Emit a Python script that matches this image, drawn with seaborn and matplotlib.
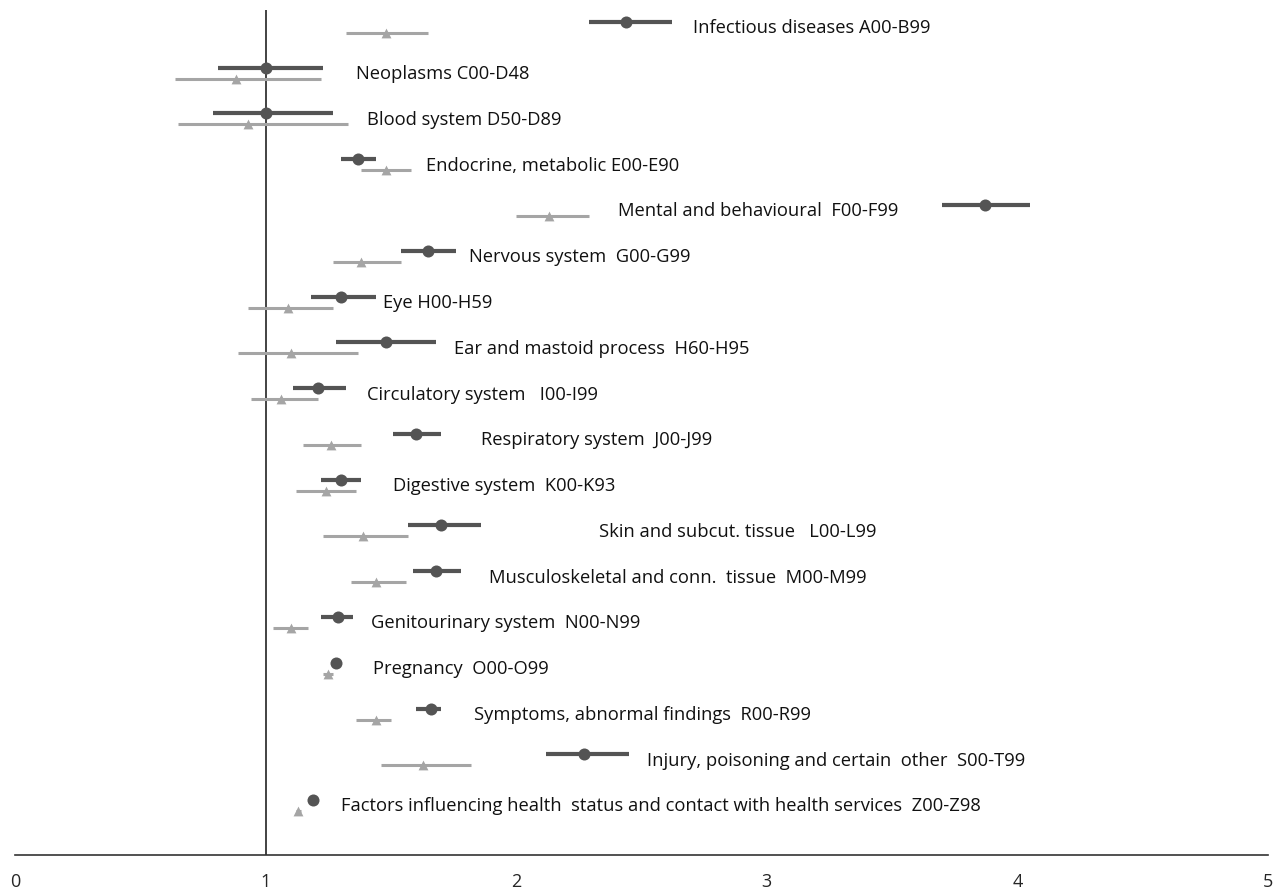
import matplotlib
matplotlib.use("Agg")
import matplotlib.pyplot as plt
import seaborn as sns
import pandas as pd
import numpy as np

categories = [
    "Infectious diseases A00-B99",
    "Neoplasms C00-D48",
    "Blood system D50-D89",
    "Endocrine, metabolic E00-E90",
    "Mental and behavioural  F00-F99",
    "Nervous system  G00-G99",
    "Eye H00-H59",
    "Ear and mastoid process  H60-H95",
    "Circulatory system   I00-I99",
    "Respiratory system  J00-J99",
    "Digestive system  K00-K93",
    "Skin and subcut. tissue   L00-L99",
    "Musculoskeletal and conn.  tissue  M00-M99",
    "Genitourinary system  N00-N99",
    "Pregnancy  O00-O99",
    "Symptoms, abnormal findings  R00-R99",
    "Injury, poisoning and certain  other  S00-T99",
    "Factors influencing health  status and contact with health services  Z00-Z98",
]

dark_est = [2.44, 1.00, 1.00, 1.37, 3.87, 1.65, 1.30, 1.48, 1.21, 1.60, 1.30, 1.70, 1.68, 1.29, 1.28, 1.66, 2.27, 1.19]
dark_lo = [2.29, 0.81, 0.79, 1.30, 3.70, 1.54, 1.18, 1.28, 1.11, 1.51, 1.22, 1.57, 1.59, 1.22, 1.27, 1.60, 2.12, 1.19]
dark_hi = [2.62, 1.23, 1.27, 1.44, 4.05, 1.76, 1.44, 1.68, 1.32, 1.70, 1.38, 1.86, 1.78, 1.35, 1.29, 1.70, 2.45, 1.19]

light_est = [1.48, 0.88, 0.93, 1.48, 2.13, 1.38, 1.09, 1.10, 1.06, 1.26, 1.24, 1.39, 1.44, 1.10, 1.25, 1.44, 1.63, 1.13]
light_lo = [1.32, 0.64, 0.65, 1.38, 2.00, 1.27, 0.93, 0.89, 0.94, 1.15, 1.12, 1.23, 1.34, 1.03, 1.23, 1.36, 1.46, 1.12]
light_hi = [1.65, 1.22, 1.33, 1.58, 2.29, 1.54, 1.27, 1.37, 1.21, 1.38, 1.36, 1.57, 1.56, 1.17, 1.27, 1.50, 1.82, 1.14]

label_x = [2.705, 1.36, 1.405, 1.64, 2.405, 1.81, 1.47, 1.75, 1.405, 1.86, 1.51, 2.33, 1.89, 1.42, 1.43, 1.83, 2.52, 1.30]

x_ticks = [0, 1, 2, 3, 4, 5]

sns.set_style("white")
plt.rcParams["font.family"] = ["Open Sans", "DejaVu Sans"]

DARK = "#545454"
LIGHT = "#a5a5a5"
OFF = 0.24

rows = np.arange(len(categories))
df_dark = pd.DataFrame({"row": rows, "est": dark_est, "lo": dark_lo, "hi": dark_hi})
df_light = pd.DataFrame({"row": rows + OFF, "est": light_est, "lo": light_lo, "hi": light_hi})

fig = plt.figure(figsize=(12.8, 8.92), dpi=100)
ax = fig.add_axes([15 / 1280, 1 - 855 / 892, (1268 - 15) / 1280, (855 - 10) / 892])

ax.axvline(1, color="#222222", lw=1.2, zorder=1)

ax.hlines(df_light["row"], df_light["lo"], df_light["hi"], color=LIGHT, lw=2.2, zorder=2)
ax.hlines(df_dark["row"], df_dark["lo"], df_dark["hi"], color=DARK, lw=3.0, zorder=3)
sns.scatterplot(data=df_light, x="est", y="row", marker="^", s=50, color=LIGHT,
                edgecolor=LIGHT, linewidth=0, ax=ax, zorder=4)
sns.scatterplot(data=df_dark, x="est", y="row", marker="o", s=75, color=DARK,
                edgecolor=DARK, linewidth=0, ax=ax, zorder=5)

for r, lab, lx in zip(rows, categories, label_x):
    ax.text(lx, r + 0.14, lab, fontsize=13.2, va="center", ha="left", color="#111111")

ax.set_xlim(0, 5)
ax.set_ylim(18.2, -0.26)
ax.set_xticks(x_ticks)
ax.set_xticklabels([str(t) for t in x_ticks], fontsize=13)
ax.set_yticks([])
ax.set_xlabel("")
ax.set_ylabel("")
for s in ["top", "right", "left"]:
    ax.spines[s].set_visible(False)
ax.spines["bottom"].set_color("#333333")
ax.spines["bottom"].set_linewidth(1.2)
ax.tick_params(axis="x", direction="inout", length=12, width=1, color="#333333", pad=7)

fig.savefig("out.png", dpi=100)
